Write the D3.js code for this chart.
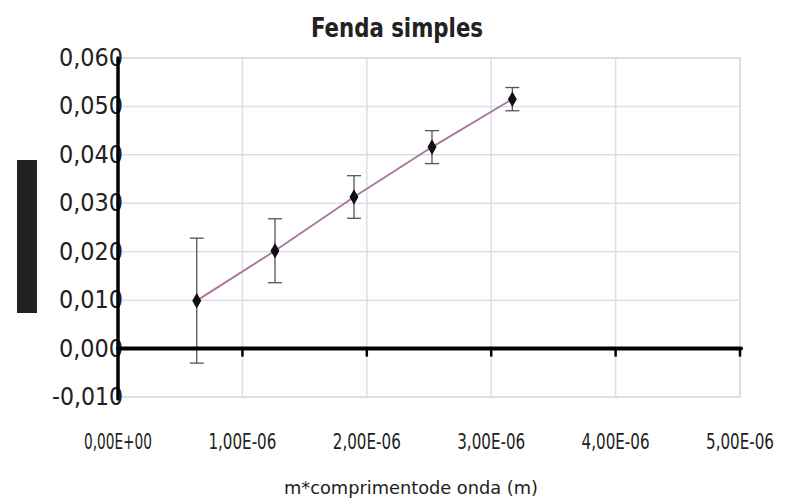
<!DOCTYPE html>
<html>
<head>
<meta charset="utf-8">
<script src="https://cdn.jsdelivr.net/npm/d3@7"></script>
<style>
  html, body { margin: 0; padding: 0; background: #fff; }
  svg { display: block; }
  text { font-family: "DejaVu Sans Condensed", "Liberation Sans Narrow", "DejaVu Sans", sans-serif; fill: #222; }
</style>
</head>
<body>
<svg id="chart" width="807" height="500"></svg>
<script>
// Single-slit measurements: m*lambda (m) vs. measured quantity, with error bars
const xValues = [0.633e-6, 1.262e-6, 1.897e-6, 2.524e-6, 3.170e-6];
const yValues = [0.0099, 0.0202, 0.0313, 0.0416, 0.0515];
const yErrors = [0.0129, 0.0066, 0.0044, 0.0034, 0.0024];

const xTickValues = [0, 1e-6, 2e-6, 3e-6, 4e-6, 5e-6];
const xTickLabels = ["0,00E+00", "1,00E-06", "2,00E-06", "3,00E-06", "4,00E-06", "5,00E-06"];
const yTickValues = [-0.01, 0, 0.01, 0.02, 0.03, 0.04, 0.05, 0.06];
const yTickLabels = ["-0,010", "0,000", "0,010", "0,020", "0,030", "0,040", "0,050", "0,060"];

const titleText = "Fenda simples";
const xAxisTitle = "m*comprimentode onda (m)";

const svg = d3.select("#chart");
const plot = { left: 118, right: 740, top: 58, bottom: 397 };

const x = d3.scaleLinear().domain([0, 5e-6]).range([plot.left, plot.right]);
const y = d3.scaleLinear().domain([-0.01, 0.06]).range([plot.bottom, plot.top]);

// plot area frame
svg.append("rect")
  .attr("x", plot.left).attr("y", plot.top)
  .attr("width", plot.right - plot.left).attr("height", plot.bottom - plot.top)
  .attr("fill", "#fff").attr("stroke", "#cfcfd4").attr("stroke-width", 1.5);

// gridlines
const grid = svg.append("g");
grid.selectAll(".gy").data(yTickValues).join("line")
  .attr("x1", plot.left).attr("x2", plot.right)
  .attr("y1", d => y(d)).attr("y2", d => y(d))
  .attr("stroke", "#dcdfe8").attr("stroke-width", 1.5);
grid.selectAll(".gx").data(xTickValues).join("line")
  .attr("x1", d => x(d)).attr("x2", d => x(d))
  .attr("y1", plot.top).attr("y2", plot.bottom)
  .attr("stroke", "#dcdfe8").attr("stroke-width", 1.5);

// y tick labels (the last digit sits under the vertical axis)
svg.append("g").selectAll("text").data(yTickValues).join("text")
  .attr("x", plot.left + 5)
  .attr("y", d => y(d) + 8)
  .attr("text-anchor", "end")
  .attr("font-size", 24)
  .attr("textLength", (d, i) => yTickLabels[i].length > 5 ? 71 : 64)
  .attr("lengthAdjust", "spacingAndGlyphs")
  .text((d, i) => yTickLabels[i]);

// x tick labels
svg.append("g").selectAll("text").data(xTickValues).join("text")
  .attr("x", d => x(d))
  .attr("y", 449)
  .attr("text-anchor", "middle")
  .attr("font-size", 22)
  .attr("textLength", 68)
  .attr("lengthAdjust", "spacingAndGlyphs")
  .text((d, i) => xTickLabels[i]);

// connecting line
const line = d3.line().x((d, i) => x(xValues[i])).y(d => y(d));
svg.append("path")
  .datum(yValues)
  .attr("d", line)
  .attr("fill", "none")
  .attr("stroke", "#a9739f")
  .attr("stroke-width", 1.8);

// error bars
const err = svg.append("g").attr("stroke", "#555").attr("stroke-width", 1.3);
yValues.forEach((v, i) => {
  const cx = x(xValues[i]);
  const top = y(v + yErrors[i]);
  const bot = y(v - yErrors[i]);
  err.append("line").attr("x1", cx).attr("x2", cx).attr("y1", top).attr("y2", bot);
  err.append("line").attr("x1", cx - 7).attr("x2", cx + 7).attr("y1", top).attr("y2", top);
  err.append("line").attr("x1", cx - 7).attr("x2", cx + 7).attr("y1", bot).attr("y2", bot);
});

// diamond markers
svg.append("g").selectAll("path").data(yValues).join("path")
  .attr("transform", (d, i) => `translate(${x(xValues[i])},${y(d)})`)
  .attr("d", d3.symbol(d3.symbolDiamond, 70))
  .attr("fill", "#111");

// horizontal axis at y = 0 with downward ticks
const xAxis = svg.append("g").attr("transform", `translate(0,${y(0)})`);
xAxis.append("line")
  .attr("x1", plot.left).attr("x2", plot.right + 1)
  .attr("stroke", "#000").attr("stroke-width", 4).attr("stroke-linecap", "round");
xAxis.selectAll(".tk").data(xTickValues.slice(1)).join("line")
  .attr("x1", d => x(d)).attr("x2", d => x(d))
  .attr("y1", 0).attr("y2", 8)
  .attr("stroke", "#000").attr("stroke-width", 2.5);

// vertical axis
svg.append("line")
  .attr("x1", plot.left).attr("x2", plot.left)
  .attr("y1", plot.top).attr("y2", plot.bottom + 2)
  .attr("stroke", "#000").attr("stroke-width", 3.5).attr("stroke-linecap", "round");

// y-axis title block
svg.append("rect")
  .attr("x", 17).attr("y", 160).attr("width", 20).attr("height", 153)
  .attr("fill", "#222");

// titles
svg.append("text")
  .attr("x", 397).attr("y", 37)
  .attr("text-anchor", "middle")
  .attr("font-size", 26).attr("font-weight", "bold")
  .attr("textLength", 172)
  .attr("lengthAdjust", "spacingAndGlyphs")
  .text(titleText);

svg.append("text")
  .attr("x", 411).attr("y", 494)
  .attr("text-anchor", "middle")
  .attr("font-size", 17)
  .attr("textLength", 254)
  .attr("lengthAdjust", "spacingAndGlyphs")
  .text(xAxisTitle);
</script>
</body>
</html>
